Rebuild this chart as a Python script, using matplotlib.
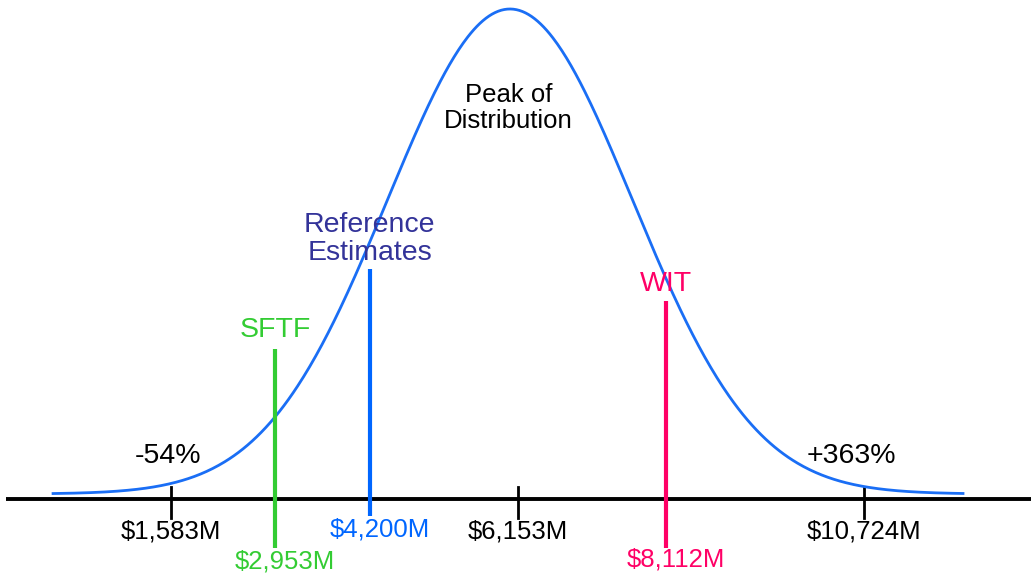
import numpy as np
import matplotlib.pyplot as plt

plt.rcParams['font.family'] = ['Liberation Sans', 'DejaVu Sans']

# axis ticks ($M)
tick_values = [1583, 6153, 10724]
tick_labels = ['$1,583M', '$6,153M', '$10,724M']

# estimate markers ($M)
marker_names = ['SFTF', 'Reference\nEstimates', 'WIT']
marker_values = [2953, 4200, 8112]
marker_labels = ['$2,953M', '$4,200M', '$8,112M']
marker_colors = ['#33cc33', '#0066ff', '#ff0066']
marker_name_colors = ['#33cc33', '#333399', '#ff0066']

# distribution shape ($M)
peak_value = 6053
spread = 1616
curve_start, curve_end = 25, 12030

# range labels at the tails
tail_labels = ['-54%', '+363%']
tail_x = [1540, 10560]

# layout (vertical units are pixels above the axis line)
peak_height = 485
curve_floor = 5
line_tops = [150, 230, 198]
line_bottoms = [-49, -17, -49]
value_label_y = [-62, -30, -61]
name_label_y = [169, 260, 215]

fig = plt.figure(figsize=(10.31, 5.80), dpi=100)
ax = fig.add_axes([0, 0, 1, 1])
ax.set_xlim(-675, 12927)
ax.set_ylim(-81, 499)
ax.axis('off')

# baseline axis
ax.plot([-590, 12927], [0, 0], color='black', lw=2.8, solid_capstyle='butt', zorder=2)
for v, lab in zip(tick_values, tick_labels):
    ax.plot([v, v], [12, -19], color='black', lw=2, zorder=2)
    ax.text(v, -33, lab, ha='center', va='center', fontsize=18.5)

# bell curve
x = np.linspace(curve_start, curve_end, 600)
y = curve_floor + peak_height * np.exp(-0.5 * ((x - peak_value) / spread) ** 2)
ax.plot(x, y, color='#1a6ef5', lw=2, zorder=3)
ax.text(peak_value - 20, 391, 'Peak of\nDistribution', ha='center', va='center',
        fontsize=18.5, linespacing=1.15)

for tx, lab in zip(tail_x, tail_labels):
    ax.text(tx, 43, lab, ha='center', va='center', fontsize=20.5)

# estimate markers
for name, v, lab, c, nc, top, bot, ly, ny in zip(
        marker_names, marker_values, marker_labels, marker_colors,
        marker_name_colors, line_tops, line_bottoms, value_label_y, name_label_y):
    ax.plot([v, v], [top, bot], color=c, lw=3, solid_capstyle='butt', zorder=4)
    ax.text(v + 130, ly, lab, ha='center', va='center', fontsize=18.5, color=c)
    ax.text(v, ny, name, ha='center', va='center', fontsize=20.5, color=nc,
            linespacing=1.1)

fig.savefig('out.png', dpi=100)
